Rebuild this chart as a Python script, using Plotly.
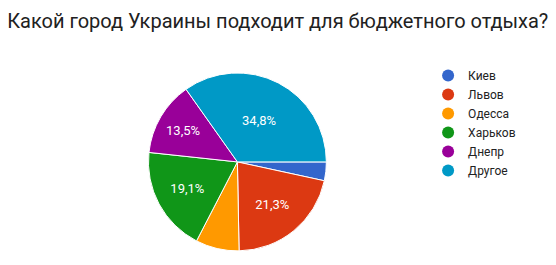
import plotly.graph_objects as go

cities = ["Киев", "Львов", "Одесса", "Харьков", "Днепр", "Другое"]
shares = [3.4, 21.3, 7.9, 19.1, 13.5, 34.8]
colors = ["#3366cc", "#dc3912", "#ff9900", "#109618", "#990099", "#0099c6"]
show_label = [False, True, False, True, True, True]
title_text = "Какой город Украины подходит для бюджетного отдыха?"

labels_txt = [(f"{v:.1f}".replace(".", ",") + "%") if s else "" for v, s in zip(shares, show_label)]

fig = go.Figure()
fig.add_trace(go.Pie(
    labels=cities, values=shares, sort=False, direction="clockwise", rotation=90,
    marker=dict(colors=colors, line=dict(color="white", width=1)),
    text=labels_txt, textinfo="text", textposition="inside", insidetextorientation="horizontal",
    textfont=dict(family="Roboto, Arial, sans-serif", size=13, color="white"),
    domain=dict(x=[0.267, 0.587], y=[0.053, 0.725]),
    showlegend=False, hoverinfo="label+percent",
))
for c, col in zip(cities, colors):
    fig.add_trace(go.Scatter(
        x=[None], y=[None], mode="markers", name=c,
        marker=dict(symbol="circle", size=12, color=col),
    ))

fig.update_layout(
    width=556, height=265,
    margin=dict(l=0, r=0, t=0, b=0),
    paper_bgcolor="white", plot_bgcolor="white",
    title=dict(text=title_text, x=0.013, xanchor="left", y=1 - 21 / 265, yanchor="middle",
               yref="container",
               font=dict(family="Roboto, Arial, sans-serif", size=20, color="#212121")),
    xaxis=dict(visible=False), yaxis=dict(visible=False),
    legend=dict(x=0.770, y=1 - 61 / 265, xanchor="left", yanchor="top",
                font=dict(family="Roboto, Arial, sans-serif", size=12, color="#222222"),
                itemwidth=30, tracegroupgap=0, bgcolor="rgba(0,0,0,0)"),
)
fig.write_html("out.html")
